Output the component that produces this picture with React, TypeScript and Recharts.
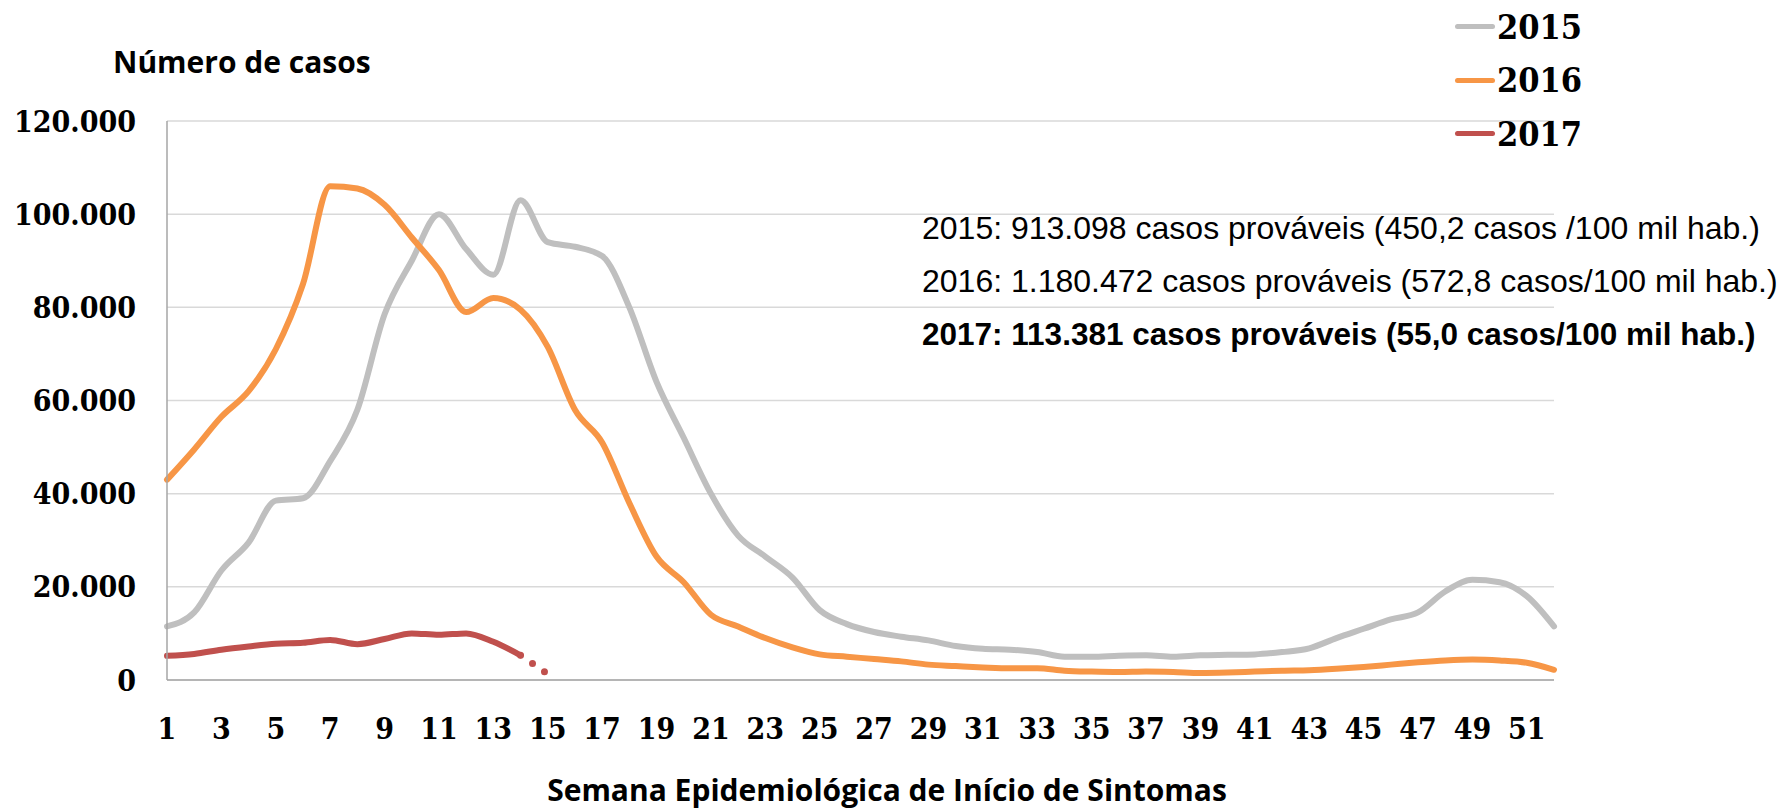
import React from "react"
import { LineChart, Line, XAxis, YAxis, CartesianGrid, Legend } from "recharts"

// semana epidemiológica 1..52
const weeks = Array.from({ length: 52 }, (_, i) => i + 1)

// casos prováveis (milhares)
const cases2015 = [
  11.5, 14.5, 23.5, 29.5, 38.5, 39, 47, 58, 78.5, 90, 100, 92.5, 87, 103, 94, 93, 91, 80, 64, 52,
  40, 31, 26.5, 22, 15, 12, 10.3, 9.3, 8.5, 7.3, 6.7, 6.5, 6, 5, 5, 5.2, 5.3, 5, 5.3, 5.4,
  5.5, 6, 6.8, 9, 11, 13, 14.5, 19, 21.5, 21, 18, 11.5,
]
const cases2016 = [
  43, 49.5, 56.5, 62, 71, 85, 106, 105.5, 102, 95, 88, 79, 82, 79.5, 71.5, 58, 51, 38, 26.5, 21,
  14, 11.5, 9, 7, 5.5, 5, 4.5, 4, 3.3, 3, 2.7, 2.5, 2.5, 2, 1.8, 1.7, 1.8, 1.7, 1.5, 1.6,
  1.8, 2, 2.1, 2.4, 2.8, 3.3, 3.8, 4.2, 4.4, 4.2, 3.7, 2.2,
]
const cases2017 = [5.2, 5.6, 6.5, 7.2, 7.8, 8.0, 8.6, 7.7, 8.8, 10.0, 9.7, 10.0, 8.2, 5.3]
// semanas ainda incompletas (trecho pontilhado)
const cases2017Partial = [5.3, 1.3]
const partialStart = 14

const yTicks = [0, 20000, 40000, 60000, 80000, 100000, 120000]

const legendItems = [
  { key: "y2015", label: "2015", color: "#BFBFBF" },
  { key: "y2016", label: "2016", color: "#F79646" },
  { key: "y2017", label: "2017", color: "#C0504D" },
]

const notes = [
  { text: "2015: 913.098 casos prováveis (450,2 casos /100 mil hab.)", bold: false },
  { text: "2016: 1.180.472 casos prováveis (572,8 casos/100 mil hab.)", bold: false },
  { text: "2017: 113.381 casos prováveis (55,0 casos/100 mil hab.)", bold: true },
]

const data = weeks.map((w, i) => ({
  week: w,
  y2015: cases2015[i] * 1000,
  y2016: cases2016[i] * 1000,
  y2017: i < cases2017.length ? cases2017[i] * 1000 : null,
  y2017p:
    w >= partialStart && w < partialStart + cases2017Partial.length
      ? cases2017Partial[w - partialStart] * 1000
      : null,
}))

const tickFont = '"DejaVu Serif Condensed", "DejaVu Serif", serif'

const fmt = (v: number) => String(v).replace(/\B(?=(\d{3})+(?!\d))/g, ".")

function LegendBox() {
  return (
    <div style={{ position: "absolute", left: 1455, top: 0 }}>
      {legendItems.map((it) => (
        <div key={it.key} style={{ display: "flex", alignItems: "center", height: 53.5 }}>
          <div style={{ width: 40, height: 5, borderRadius: 3, background: it.color }} />
          <span
            style={{
              fontFamily: tickFont,
              fontWeight: 700,
              fontSize: 34,
              color: "#000",
              marginLeft: 2,
              lineHeight: "34px",
            }}
          >
            {it.label}
          </span>
        </div>
      ))}
    </div>
  )
}

export default function App() {
  return (
    <div style={{ position: "absolute", left: 0, top: 0, width: 1779, height: 812, background: "#fff" }}>
      <LineChart
        width={1779}
        height={812}
        data={data}
        margin={{ top: 121, right: 225, bottom: 102, left: 0 }}
      >
        <CartesianGrid vertical={false} stroke="#D9D9D9" strokeWidth={1.5} />
        <XAxis
          dataKey="week"
          interval={1}
          height={30}
          tickLine={false}
          tickSize={0}
          tickMargin={38}
          stroke="#A6A6A6"
          strokeWidth={1.5}
          tick={{ fontFamily: tickFont, fontWeight: 700, fontSize: 30, fill: "#000" }}
        />
        <YAxis
          width={167}
          domain={[0, 120000]}
          ticks={yTicks}
          tickFormatter={fmt}
          tickLine={false}
          tickSize={0}
          tickMargin={31}
          stroke="#A6A6A6"
          strokeWidth={1.5}
          tick={{ fontFamily: tickFont, fontWeight: 700, fontSize: 30, fill: "#000" }}
        />
        <Legend
          layout="vertical"
          align="center"
          verticalAlign="middle"
          content={() => <LegendBox />}
          wrapperStyle={{ left: 0, top: 0, width: 1779, height: 0 }}
        />
        <Line
          type="monotone"
          dataKey="y2015"
          stroke="#BFBFBF"
          strokeWidth={6}
          strokeLinecap="round"
          dot={false}
          activeDot={false}
          isAnimationActive={false}
        />
        <Line
          type="monotone"
          dataKey="y2016"
          stroke="#F79646"
          strokeWidth={6}
          strokeLinecap="round"
          dot={false}
          activeDot={false}
          isAnimationActive={false}
        />
        <Line
          type="monotone"
          dataKey="y2017"
          stroke="#C0504D"
          strokeWidth={6}
          strokeLinecap="round"
          dot={false}
          activeDot={false}
          isAnimationActive={false}
        />
        <Line
          type="linear"
          dataKey="y2017p"
          stroke="#C0504D"
          strokeWidth={7}
          strokeLinecap="round"
          strokeDasharray="0 14.5"
          legendType="none"
          dot={false}
          activeDot={false}
          isAnimationActive={false}
        />
      </LineChart>
      <svg
        width={1779}
        height={812}
        style={{ position: "absolute", left: 0, top: 0, pointerEvents: "none" }}
      >
        <text
          x={113}
          y={73}
          fontFamily='"Open Sans", sans-serif'
          fontWeight={700}
          fontSize={30}
          fill="#000"
        >
          Número de casos
        </text>
        <text
          x={887}
          y={801}
          textAnchor="middle"
          fontFamily='"Open Sans", sans-serif'
          fontWeight={700}
          fontSize={30}
          fill="#000"
        >
          Semana Epidemiológica de Início de Sintomas
        </text>
        {notes.map((n, i) => (
          <text
            key={i}
            x={922}
            y={239 + i * 53}
            fontFamily='"Liberation Sans", Arial, sans-serif'
            fontWeight={n.bold ? 700 : 400}
            fontSize={n.bold ? 31.5 : 32}
            fill="#000"
          >
            {n.text}
          </text>
        ))}
      </svg>
    </div>
  )
}
